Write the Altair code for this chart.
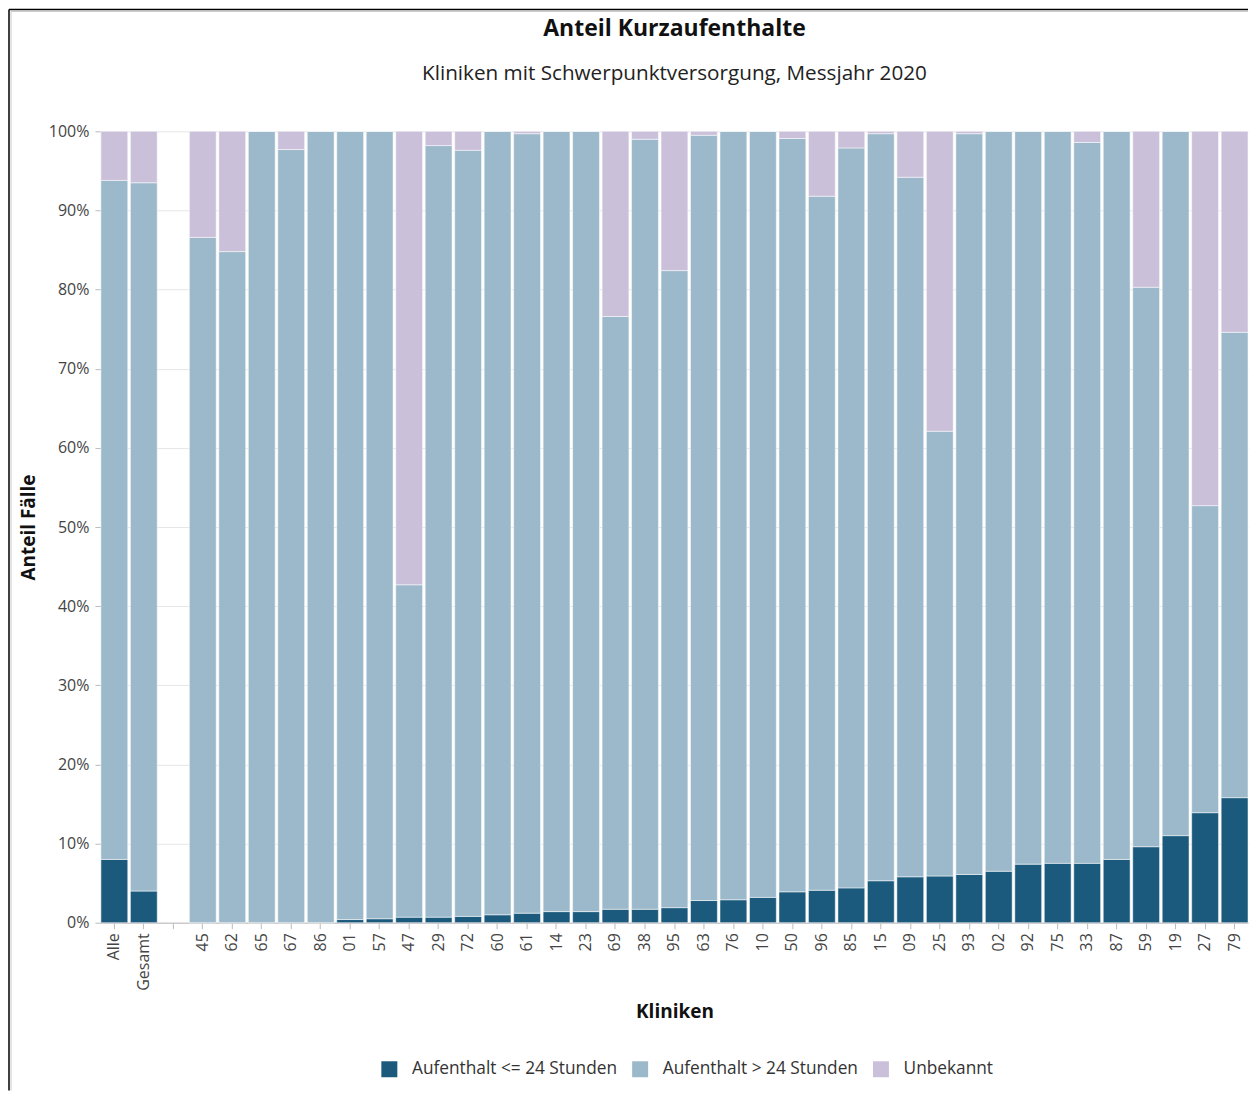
import altair as alt
import pandas as pd

kliniken = ["Alle", "Gesamt", " ", "45", "62", "65", "67", "86", "01", "57", "47", "29", "72",
            "60", "61", "14", "23", "69", "38", "95", "63", "76", "10", "50", "96", "85",
            "15", "09", "25", "93", "02", "92", "75", "33", "87", "59", "19", "27", "79"]

# values per clinic (percent), None for the empty spacer column
kurz = [8.0, 4.0, None, 0.0, 0.0, 0.0, 0.0, 0.0, 0.4, 0.5, 0.7, 0.7, 0.8,
        1.0, 1.2, 1.4, 1.4, 1.7, 1.7, 1.9, 2.8, 2.9, 3.2, 3.9, 4.1, 4.4,
        5.3, 5.8, 5.9, 6.1, 6.5, 7.4, 7.5, 7.5, 8.0, 9.6, 11.0, 13.9, 15.8]
lang = [85.8, 89.5, None, 86.6, 84.8, 100.0, 97.7, 100.0, 99.6, 99.5, 42.0, 97.5, 96.8,
        99.0, 98.5, 98.6, 98.6, 74.9, 97.3, 80.5, 96.7, 97.1, 96.8, 95.2, 87.7, 93.5,
        94.4, 88.4, 56.2, 93.6, 93.5, 92.6, 92.5, 91.1, 92.0, 70.7, 89.0, 38.8, 58.8]
unbekannt = [6.2, 6.5, None, 13.4, 15.2, 0.0, 2.3, 0.0, 0.0, 0.0, 57.3, 1.8, 2.4,
             0.0, 0.3, 0.0, 0.0, 23.4, 1.0, 17.6, 0.5, 0.0, 0.0, 0.9, 8.2, 2.1,
             0.3, 5.8, 37.9, 0.3, 0.0, 0.0, 0.0, 1.4, 0.0, 19.7, 0.0, 47.3, 25.4]

kategorien = ["Aufenthalt <= 24 Stunden", "Aufenthalt > 24 Stunden", "Unbekannt"]
farben = ["#1b5a7d", "#9bb9ca", "#cbc0da"]
y_ticks = [0, 10, 20, 30, 40, 50, 60, 70, 80, 90, 100]

rows = []
for i, k in enumerate(kliniken):
    for j, (cat, series) in enumerate(zip(kategorien, [kurz, lang, unbekannt])):
        v = series[i]
        if v is None:
            continue
        rows.append({"Klinik": k, "Kategorie": cat, "Wert": v, "Ordnung": j})
df = pd.DataFrame(rows)

FONT = "Open Sans"

bars = alt.Chart(df).mark_bar(stroke="white", strokeWidth=0.5).encode(
    x=alt.X("Klinik:N", sort=kliniken,
            scale=alt.Scale(domain=kliniken, paddingInner=0.09, paddingOuter=0.0),
            axis=alt.Axis(title="Kliniken", labelAngle=-90, labelFontSize=16,
                          labelColor="#444", labelPadding=4, tickColor="#bbb",
                          tickSize=6, domainColor="#bbb", titleFontSize=19,
                          titleFontWeight="bold", titleColor="#111", titlePadding=12,
                          labelBaseline="middle", labelAlign="right")),
    y=alt.Y("Wert:Q", stack="zero",
            scale=alt.Scale(domain=[0, 100], nice=False),
            axis=alt.Axis(title="Anteil Fälle", values=y_ticks,
                          labelExpr="datum.value + '%'",
                          labelFontSize=16, labelColor="#444", tickColor="#bbb",
                          tickSize=6, labelPadding=6, domainColor="#bbb",
                          gridColor="#e6e6e6",
                          titleFontSize=19, titleFontWeight="bold", titleColor="#111",
                          titlePadding=10)),
    color=alt.Color("Kategorie:N",
                    scale=alt.Scale(domain=kategorien, range=farben),
                    legend=alt.Legend(title=None, orient="none", direction="horizontal",
                                      legendX=280, legendY=930, padding=0,
                                      symbolType="square", symbolSize=256,
                                      labelFontSize=17.3, labelColor="#333",
                                      labelLimit=0, labelOffset=14,
                                      columnPadding=14, symbolStrokeWidth=0)),
    order=alt.Order("Ordnung:Q", sort="ascending"),
)

frame_src = pd.DataFrame({"f": [0]})
frame_left = alt.Chart(frame_src).mark_rule(color="#000", strokeWidth=1.5).encode(
    x=alt.value(-92), y=alt.value(-122), y2=alt.value(960))
frame_top = alt.Chart(frame_src).mark_rule(color="#000", strokeWidth=1.5).encode(
    x=alt.value(-92), x2=alt.value(1148), y=alt.value(-122))
frame_left_shadow = alt.Chart(frame_src).mark_rule(color="#c8c8c8", strokeWidth=1).encode(
    x=alt.value(-90), y=alt.value(-120), y2=alt.value(960))
frame_top_shadow = alt.Chart(frame_src).mark_rule(color="#c8c8c8", strokeWidth=1).encode(
    x=alt.value(-90), x2=alt.value(1148), y=alt.value(-120))

chart = alt.layer(bars, frame_left_shadow, frame_top_shadow, frame_left, frame_top).properties(
    width=1148,
    height=792,
    padding=0,
    title=alt.TitleParams(
        text="Anteil Kurzaufenthalte",
        subtitle="Kliniken mit Schwerpunktversorgung, Messjahr 2020",
        fontSize=23, fontWeight="bold", color="#111",
        subtitleFontSize=20.7, subtitleColor="#222", subtitlePadding=23,
        anchor="middle", offset=-75,
    ),
).configure(
    font=FONT,
).configure_view(
    stroke=None,
)

chart.save("out.html", embed_options={"renderer": "svg", "actions": False})
